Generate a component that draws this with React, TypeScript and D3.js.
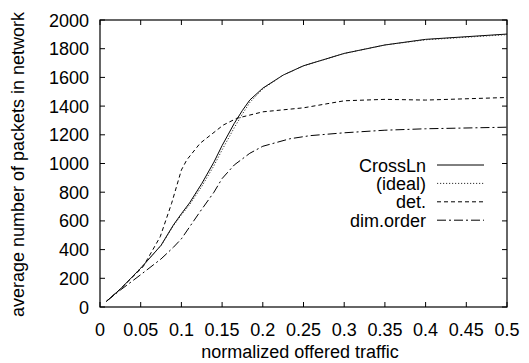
import React from "react";
import * as d3 from "d3";

const crossX = [0.008, 0.025, 0.05, 0.075, 0.09, 0.1, 0.11, 0.125, 0.14, 0.15, 0.165, 0.175, 0.184, 0.2, 0.225, 0.25, 0.3, 0.35, 0.4, 0.5];
const crossY = [40, 125, 270, 430, 570, 650, 725, 860, 1010, 1125, 1280, 1370, 1442, 1525, 1616, 1681, 1767, 1826, 1865, 1902];
const idealX = [0.008, 0.025, 0.05, 0.075, 0.09, 0.1, 0.11, 0.125, 0.14, 0.15, 0.165, 0.175, 0.184, 0.2, 0.225, 0.25, 0.3, 0.35, 0.4, 0.5];
const idealY = [40, 125, 272, 428, 565, 642, 712, 840, 985, 1095, 1250, 1345, 1425, 1520, 1616, 1681, 1767, 1826, 1862, 1898];
const detX = [0.008, 0.025, 0.05, 0.053, 0.074, 0.088, 0.1, 0.1065, 0.123, 0.1515, 0.168, 0.2, 0.25, 0.3, 0.35, 0.4, 0.5];
const detY = [40, 125, 265, 281, 490, 723, 955, 1024, 1141, 1268, 1315, 1360, 1388, 1437, 1447, 1442, 1460];
const dimX = [0.008, 0.025, 0.05, 0.075, 0.09, 0.1, 0.123, 0.14, 0.15, 0.165, 0.184, 0.2, 0.233, 0.258, 0.3, 0.35, 0.4, 0.5];
const dimY = [40, 118, 225, 335, 415, 475, 665, 800, 895, 990, 1071, 1120, 1172, 1194, 1214, 1232, 1242, 1253];

const xTicks = [0, 0.05, 0.1, 0.15, 0.2, 0.25, 0.3, 0.35, 0.4, 0.45, 0.5];
const xTickLabels = ["0", "0.05", "0.1", "0.15", "0.2", "0.25", "0.3", "0.35", "0.4", "0.45", "0.5"];
const yTicks = [0, 200, 400, 600, 800, 1000, 1200, 1400, 1600, 1800, 2000];

const seriesNames = ["CrossLn", "(ideal)", "det.", "dim.order"];
const seriesDash = ["none", "1.2,1.8", "4,3", "9,3,2,3"];

export default function App() {
  const W = 529, H = 363;
  const left = 100, right = 507, top = 20, bottom = 307;
  const x = d3.scaleLinear().domain([0, 0.5]).range([left, right]);
  const y = d3.scaleLinear().domain([0, 2000]).range([bottom, top]);
  const line = d3.line<[number, number]>().x(d => x(d[0])).y(d => y(d[1]));
  const data = [
    crossX.map((v, i) => [v, crossY[i]] as [number, number]),
    idealX.map((v, i) => [v, idealY[i]] as [number, number]),
    detX.map((v, i) => [v, detY[i]] as [number, number]),
    dimX.map((v, i) => [v, dimY[i]] as [number, number]),
  ];
  const font = "'Liberation Sans', Arial, Helvetica, sans-serif";
  const fs = 18;
  const tl = 5;
  return (
    <svg width={W} height={H} style={{ position: "absolute", left: 0, top: 0, background: "#fff" }} fontFamily={font}>
      <rect x={0} y={0} width={W} height={H} fill="#fff" />
      {data.map((d, i) => (
        <path key={i} d={line(d) || ""} fill="none" stroke={i === 1 ? "#333" : "#000"} strokeWidth={1}
          strokeDasharray={seriesDash[i] === "none" ? undefined : seriesDash[i]} />
      ))}
      {xTicks.map((t, i) => (
        <g key={"x" + i}>
          <line x1={x(t)} x2={x(t)} y1={bottom} y2={bottom - tl} stroke="#000" />
          <line x1={x(t)} x2={x(t)} y1={top} y2={top + tl} stroke="#000" />
          <text x={x(t)} y={bottom + 29} textAnchor="middle" fontSize={fs} fill="#000">{xTickLabels[i]}</text>
        </g>
      ))}
      {yTicks.map((t, i) => (
        <g key={"y" + i}>
          <line x1={left} x2={left + tl} y1={y(t)} y2={y(t)} stroke="#000" />
          <line x1={right} x2={right - tl} y1={y(t)} y2={y(t)} stroke="#000" />
          <text x={89} y={y(t) + 6.5} textAnchor="end" fontSize={fs} fill="#000">{t}</text>
        </g>
      ))}
      <rect x={left} y={top} width={right - left} height={bottom - top} fill="none" stroke="#000" strokeWidth={1.2} />
      {seriesNames.map((n, i) => {
        const ly = 165 + i * 18.4;
        return (
          <g key={"l" + i}>
            <text x={426} y={ly + 6.5} textAnchor="end" fontSize={fs} fill="#000">{n}</text>
            <line x1={437} x2={484} y1={ly} y2={ly} stroke={i === 1 ? "#333" : "#000"} strokeWidth={1}
              strokeDasharray={seriesDash[i] === "none" ? undefined : seriesDash[i]} />
          </g>
        );
      })}
      <text x={300} y={358} textAnchor="middle" fontSize={fs} fill="#000">normalized offered traffic</text>
      <text transform={`translate(24,${(top + bottom) / 2 + 1}) rotate(-90)`} textAnchor="middle" fontSize={fs} fill="#000">average number of packets in network</text>
    </svg>
  );
}
